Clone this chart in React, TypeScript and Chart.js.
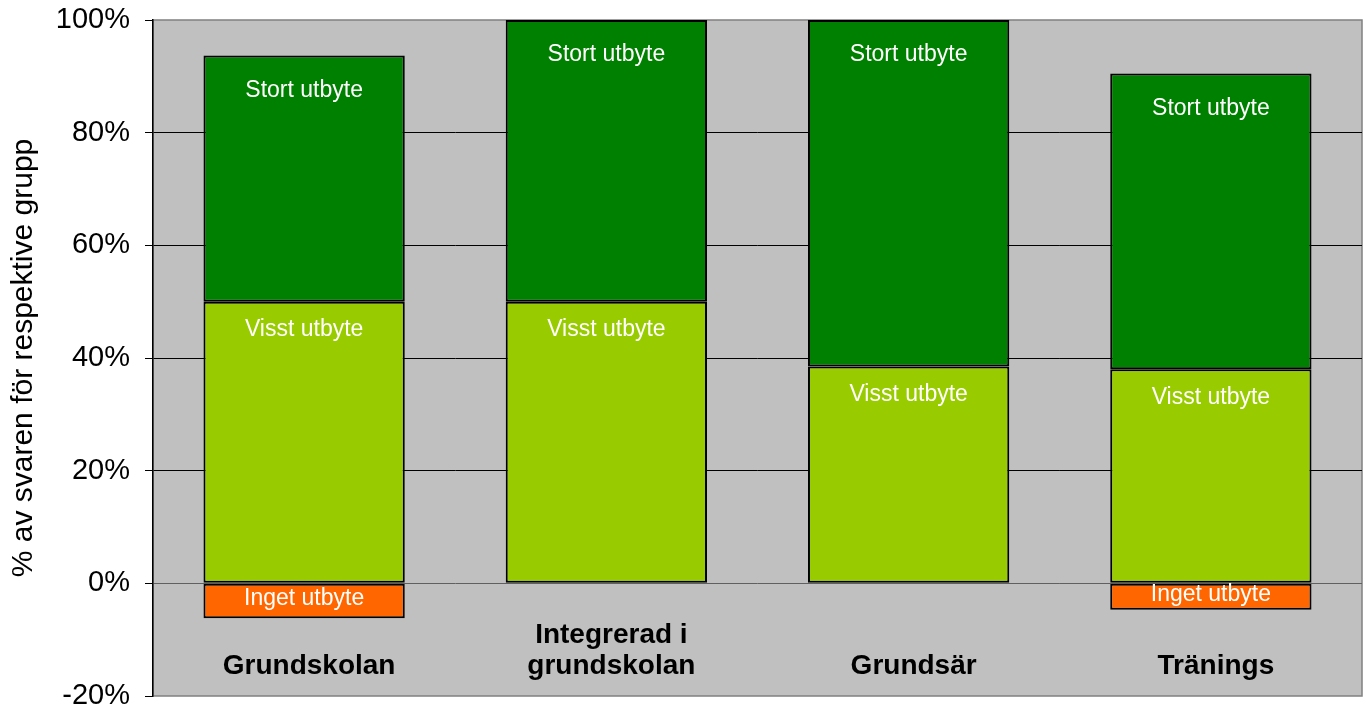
import React, { useEffect, useRef } from "react";
import { Chart, registerables } from "chart.js";

Chart.register(...registerables);

const categories: (string | string[])[] = ["Grundskolan", ["Integrerad i", "grundskolan"], "Grundsär", "Tränings"];
const ingetUtbyte: (number | null)[] = [-6.2, null, null, -4.7];
const visstUtbyte: number[] = [50, 50, 38.5, 38.0];
const stortUtbyte: number[] = [43.7, 50, 61.5, 52.5];
const seriesLabels = ["Inget utbyte", "Visst utbyte", "Stort utbyte"];
const seriesColors = ["#FF6600", "#99CC00", "#008000"];
const yTicks = [-20, 0, 20, 40, 60, 80, 100];
const yTitle = "% av svaren för respektive grupp";

const FONT = "'Liberation Sans', Arial, Helvetica, sans-serif";

const plotBg = {
  id: "plotBg",
  beforeDraw(chart: any) {
    const { ctx, chartArea } = chart;
    ctx.save();
    ctx.fillStyle = "#C0C0C0";
    ctx.fillRect(chartArea.left, chartArea.top, chartArea.right - chartArea.left, chartArea.bottom - chartArea.top);
    ctx.strokeStyle = "#808080";
    ctx.lineWidth = 1.5;
    ctx.strokeRect(chartArea.left, chartArea.top, chartArea.right - chartArea.left, chartArea.bottom - chartArea.top);
    ctx.restore();
  },
};

const labelsPlugin = {
  id: "labelsPlugin",
  afterDatasetsDraw(chart: any) {
    const { ctx } = chart;
    const xScale = chart.scales.x;
    const yScale = chart.scales.y;
    ctx.save();
    ctx.textAlign = "center";
    ctx.textBaseline = "middle";
    ctx.fillStyle = "#FFFFFF";
    ctx.font = `23px ${FONT}`;
    chart.data.datasets.forEach((ds: any, di: number) => {
      const meta = chart.getDatasetMeta(di);
      meta.data.forEach((el: any, i: number) => {
        const v = ds.data[i];
        if (v === null || v === undefined) return;
        const top = Math.min(el.y, el.base);
        const bottom = Math.max(el.y, el.base);
        let y: number;
        if (v < 0) y = (top + bottom) / 2 - 2;
        else if (di === 2) y = top + 35;
        else y = top + 28;
        ctx.fillText(ds.label, el.x, y);
      });
    });
    // category labels
    ctx.fillStyle = "#000000";
    ctx.font = `bold 28px ${FONT}`;
    const baseY = yScale.getPixelForValue(-14.8);
    categories.forEach((c, i) => {
      const lines = Array.isArray(c) ? c : [c];
      const x = xScale.getPixelForValue(i) + 5;
      lines.forEach((ln, li) => {
        const y = baseY - (lines.length - 1 - li) * 31;
        ctx.fillText(ln, x, y);
      });
    });
    ctx.restore();
  },
};

export default function App() {
  const ref = useRef<HTMLCanvasElement | null>(null);
  useEffect(() => {
    document.body.style.margin = "0";
    if (!ref.current) return;
    const chart = new Chart(ref.current, {
      type: "bar",
      data: {
        labels: categories.map((c) => (Array.isArray(c) ? c.join(" ") : c)),
        datasets: [
          { label: seriesLabels[0], data: ingetUtbyte, backgroundColor: seriesColors[0] },
          { label: seriesLabels[1], data: visstUtbyte, backgroundColor: seriesColors[1] },
          { label: seriesLabels[2], data: stortUtbyte, backgroundColor: seriesColors[2] },
        ].map((d) => ({
          ...d,
          borderColor: "#000000",
          borderWidth: 2,
          borderSkipped: false,
          barPercentage: 0.666,
          categoryPercentage: 1,
        })) as any,
      },
      options: {
        animation: false,
        responsive: false,
        maintainAspectRatio: false,
        layout: { padding: { top: 20, right: 4, bottom: 12, left: 0 } },
        plugins: { legend: { display: false }, tooltip: { enabled: false } },
        scales: {
          x: { stacked: true, display: false },
          y: {
            stacked: true,
            min: -20,
            max: 100,
            afterBuildTicks: (scale: any) => {
              scale.ticks = yTicks.map((v) => ({ value: v }));
            },
            afterFit: (scale: any) => {
              scale.width = 153;
              scale.paddingTop = 0;
              scale.paddingBottom = 0;
            },
            ticks: {
              color: "#000000",
              padding: 15,
              font: { family: FONT, size: 29 },
              callback: (v: any) => `${v}%`,
            },
            grid: {
              color: (ctx: any) => {
                const v = ctx.tick ? ctx.tick.value : null;
                if (v === 0) return "#606060";
                if (v === 100 || v === -20) return "rgba(0,0,0,0)";
                return "#000000";
              },
              tickColor: "#000000",
              tickLength: 8,
              lineWidth: 1,
            },
            border: { color: "#000000", width: 1.5 },
            title: {
              display: true,
              text: yTitle,
              color: "#000000",
              font: { family: FONT, size: 30 },
              padding: { top: 6, bottom: 0 },
            },
          },
        },
      },
      plugins: [plotBg, labelsPlugin],
    });
    return () => chart.destroy();
  }, []);
  return (
    <div style={{ position: "fixed", left: 0, top: 0, width: 1366, height: 708, background: "#FFFFFF" }}>
      <canvas ref={ref} width={1366} height={708} style={{ display: "block", width: 1366, height: 708 }} />
    </div>
  );
}
